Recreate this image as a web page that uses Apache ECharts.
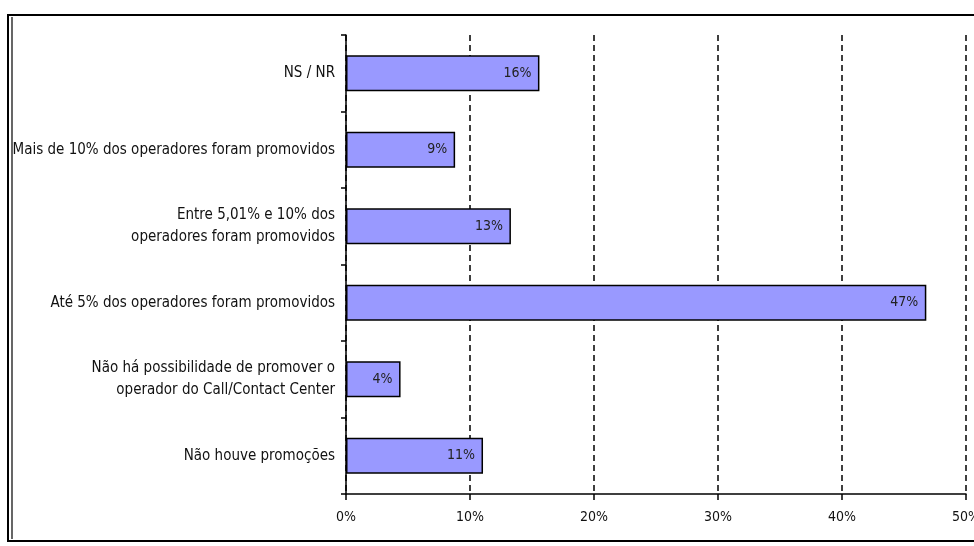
<!DOCTYPE html>
<html>
<head>
<meta charset="utf-8">
<script src="https://cdn.jsdelivr.net/npm/echarts@6/dist/echarts.min.js"></script>
<style>
html,body{margin:0;padding:0;background:#fff;}
#chart{width:974px;height:546px;}
</style>
</head>
<body>
<div id="chart"></div>
<script>
var categories = [
  'NS / NR',
  'Mais de 10% dos operadores foram promovidos',
  'Entre 5,01% e 10% dos\noperadores foram promovidos',
  'Até 5% dos operadores foram promovidos',
  'Não há possibilidade de promover o\noperador do Call/Contact Center',
  'Não houve promoções'
];
var values = [15.6, 8.8, 13.3, 46.8, 4.4, 11.05];
var valueLabels = ['16%', '9%', '13%', '47%', '4%', '11%'];
var xTicks = [0, 10, 20, 30, 40, 50];

var FONT = '"Liberation Sans Narrow", "DejaVu Sans Condensed", "Liberation Sans", sans-serif';
var chart = echarts.init(document.getElementById('chart'));
chart.setOption({
  animation: false,
  backgroundColor: '#fff',
  grid: { left: 346, right: 8, top: 35, bottom: 52, containLabel: false, outerBoundsMode: 'none' },
  xAxis: {
    type: 'value',
    min: xTicks[0],
    max: xTicks[xTicks.length - 1],
    interval: 10,
    axisLine: { show: true, lineStyle: { color: '#000', width: 1.5 } },
    axisTick: { show: true, length: 6, lineStyle: { color: '#000', width: 1.5 } },
    axisLabel: { formatter: '{value}%', color: '#111', fontFamily: FONT, fontSize: 14, margin: 16 },
    splitLine: { show: true, lineStyle: { color: '#000', width: 1.5, type: [6, 4] } }
  },
  yAxis: {
    type: 'category',
    inverse: true,
    data: categories,
    axisLine: { show: true, lineStyle: { color: '#000', width: 1.5 } },
    axisTick: { show: true, length: 5, lineStyle: { color: '#000', width: 1.5 } },
    axisLabel: { color: '#111', fontFamily: FONT, fontSize: 15, lineHeight: 22, margin: 11, align: 'right' }
  },
  series: [{
    type: 'bar',
    data: values,
    barWidth: 36,
    itemStyle: { color: '#9999FF', borderColor: '#000', borderWidth: 1.5 },
    label: {
      show: true,
      position: 'insideRight',
      distance: 8,
      color: '#222',
      fontFamily: FONT,
      fontSize: 14,
      formatter: function (p) { return valueLabels[p.dataIndex]; }
    }
  }],
  graphic: [
    { type: 'rect', shape: { x: 8, y: 15, width: 990, height: 526 }, style: { fill: 'none', stroke: '#000', lineWidth: 2 }, silent: true },
    { type: 'line', shape: { x1: 12, y1: 17, x2: 12, y2: 539 }, style: { stroke: '#000', lineWidth: 1.2 }, silent: true }
  ]
});
</script>
</body>
</html>
